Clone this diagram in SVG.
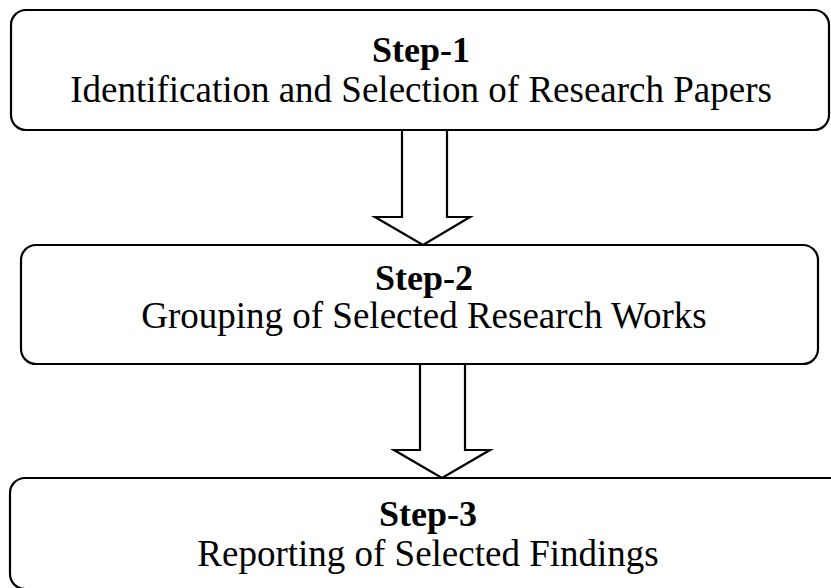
<svg xmlns="http://www.w3.org/2000/svg" width="831" height="588" viewBox="0 0 831 588">
<style>
.box{fill:#fff;stroke:#000;stroke-width:2.2}
.arr{fill:#fff;stroke:#000;stroke-width:2.2;stroke-linejoin:miter}
.t{font-family:"Liberation Serif","Times New Roman",serif;fill:#000;text-anchor:middle}
.h{font-weight:bold;font-size:36px}
.s{font-size:37px}
</style>
<rect width="831" height="588" fill="#fff"/>
<g id="step1">
<rect class="box" x="11" y="10" width="818" height="120" rx="15"/>
<text class="t h" x="421" y="62">Step-1</text>
<text class="t s" x="421" y="102">Identification and Selection of Research Papers</text>
</g>
<g id="step2">
<rect class="box" x="21" y="245" width="797" height="119" rx="15"/>
<text class="t h" x="424" y="290">Step-2</text>
<text class="t s" x="424" y="328">Grouping of Selected Research Works</text>
</g>
<g id="step3">
<rect class="box" x="10" y="478" width="840" height="111" rx="15"/>
<text class="t h" x="428" y="526">Step-3</text>
<text class="t s" x="428" y="566">Reporting of Selected Findings</text>
</g>
<g id="connectors">
<path class="arr" d="M402,131 V217 H375 L423,245 L470,217 H447 V131"/>
<path class="arr" d="M420,365 V450 H394 L442,478 L490,450 H465 V365"/>
</g>
</svg>
